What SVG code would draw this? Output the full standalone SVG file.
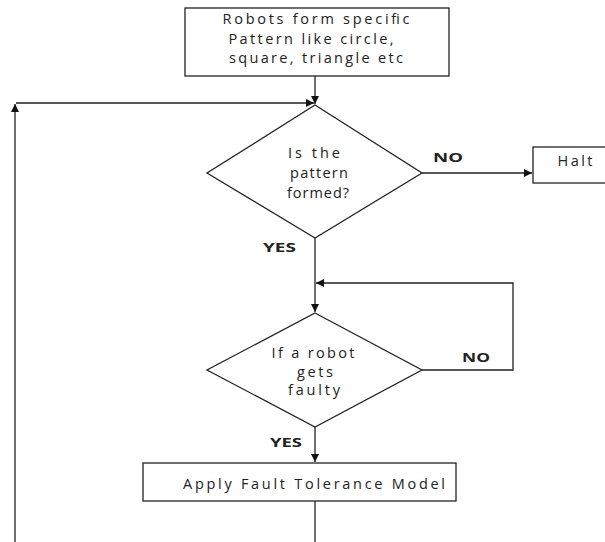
<svg xmlns="http://www.w3.org/2000/svg" width="605" height="542" viewBox="0 0 605 542">
<style>
.box{fill:#fff;stroke:#222;stroke-width:1.3}
.ln{fill:none;stroke:#222;stroke-width:1.3}
.t{font-family:"Open Sans","Liberation Sans",sans-serif;font-size:14.5px;fill:#222;text-anchor:middle}
.b{font-family:"Open Sans","Liberation Sans",sans-serif;font-size:12.5px;font-weight:bold;fill:#222}
</style>
<defs>
<marker id="ah" viewBox="0 0 10 10" refX="10" refY="5" markerWidth="8" markerHeight="8" markerUnits="userSpaceOnUse" orient="auto">
<path d="M0,0 L10,5 L0,10 z" fill="#111"/>
</marker>
</defs>
<rect width="605" height="542" fill="#fff"/>
<g id="connectors">
<path class="ln" d="M315,76 V104" marker-end="url(#ah)"/>
<path class="ln" d="M16,103 H314" marker-end="url(#ah)"/>
<path class="ln" d="M15,542 V104" marker-end="url(#ah)"/>
<path class="ln" d="M422,173 H532" marker-end="url(#ah)"/>
<path class="ln" d="M315,238 V312" marker-end="url(#ah)"/>
<path class="ln" d="M422,370 H513 V283 H316" marker-end="url(#ah)"/>
<path class="ln" d="M315,427 V462" marker-end="url(#ah)"/>
<path class="ln" d="M315,501 V542"/>
<text class="b" x="433" y="162" textLength="30" lengthAdjust="spacingAndGlyphs">NO</text>
<text class="b" x="263" y="252" textLength="33" lengthAdjust="spacingAndGlyphs">YES</text>
<text class="b" x="462" y="362" textLength="28" lengthAdjust="spacingAndGlyphs">NO</text>
<text class="b" x="270" y="447" textLength="32" lengthAdjust="spacingAndGlyphs">YES</text>
</g>
<g id="start">
<rect class="box" x="185" y="8" width="264" height="68"/>
<text class="t" x="316" y="24" textLength="187" lengthAdjust="spacing">Robots form specific</text>
<text class="t" x="311" y="44" textLength="165" lengthAdjust="spacing">Pattern like circle,</text>
<text class="t" x="316" y="63" textLength="174" lengthAdjust="spacing">square, triangle etc</text>
</g>
<g id="decision1">
<polygon class="box" points="315,105 422,173 315,238 207,173"/>
<text class="t" x="314" y="158" textLength="52" lengthAdjust="spacing">Is the</text>
<text class="t" x="319" y="178" textLength="58" lengthAdjust="spacing">pattern</text>
<text class="t" x="318" y="198" textLength="62" lengthAdjust="spacing">formed?</text>
</g>
<g id="halt">
<rect class="box" x="533" y="147" width="80" height="36"/>
<text class="t" x="575" y="166" textLength="35" lengthAdjust="spacing">Halt</text>
</g>
<g id="decision2">
<polygon class="box" points="315,313 422,370 315,427 207,370"/>
<text class="t" x="313" y="358" textLength="83" lengthAdjust="spacing">If a robot</text>
<text class="t" x="315" y="377" textLength="36" lengthAdjust="spacing">gets</text>
<text class="t" x="314" y="395" textLength="52" lengthAdjust="spacing">faulty</text>
</g>
<g id="apply">
<rect class="box" x="143" y="463" width="313" height="38"/>
<text class="t" x="314" y="489" textLength="262" lengthAdjust="spacing">Apply Fault Tolerance Model</text>
</g>
</svg>
